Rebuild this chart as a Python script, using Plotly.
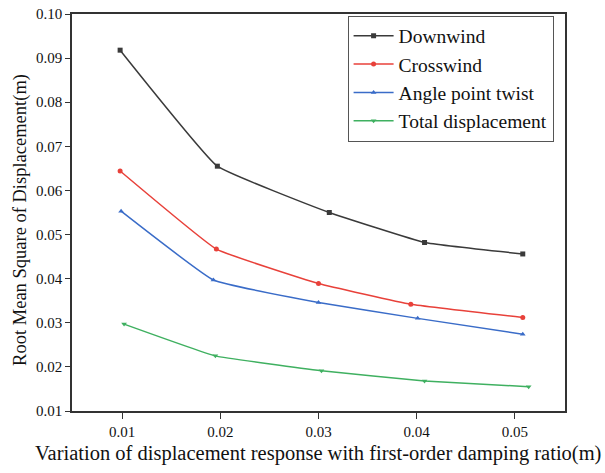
import plotly.graph_objects as go

x_down = [0.0098, 0.0197, 0.0311, 0.0408, 0.0508]
y_down = [0.0918, 0.0655, 0.0550, 0.0482, 0.0456]
x_cross = [0.0098, 0.0196, 0.0300, 0.0394, 0.0508]
y_cross = [0.0644, 0.0467, 0.0389, 0.0342, 0.0312]
x_angle = [0.0099, 0.0193, 0.0300, 0.0401, 0.0508]
y_angle = [0.0553, 0.0397, 0.0346, 0.0310, 0.0274]
x_total = [0.0102, 0.0195, 0.0303, 0.0408, 0.0514]
y_total = [0.0297, 0.0225, 0.0191, 0.0168, 0.0155]

x_title = "Variation of displacement response with first-order damping ratio(m)"
y_title = "Root Mean Square of Displacement(m)"

series = [
    ("Downwind", x_down, y_down, "#3a3a3a", "square"),
    ("Crosswind", x_cross, y_cross, "#e8413a", "circle"),
    ("Angle point twist", x_angle, y_angle, "#3a6cc8", "triangle-up"),
    ("Total displacement", x_total, y_total, "#3fb060", "triangle-down"),
]

fig = go.Figure()
for name, xs, ys, c, sym in series:
    fig.add_trace(go.Scatter(x=xs, y=ys, name=name, mode="lines+markers",
                             line=dict(color=c, width=1.5, shape="spline", smoothing=0.3),
                             marker=dict(symbol=sym, size=5, color=c)))

font = "Liberation Serif, Times New Roman, serif"
fig.update_layout(
    width=605, height=473,
    margin=dict(l=72, r=40, t=14, b=62),
    plot_bgcolor="white", paper_bgcolor="white",
    font=dict(family=font, color="#111", size=15),
    legend=dict(x=0.559, y=0.996, xanchor="left", yanchor="top",
                bordercolor="#555", borderwidth=1, bgcolor="white",
                font=dict(size=19.5, family=font), tracegroupgap=0,
                itemwidth=40),
    xaxis=dict(range=[0.0049, 0.0551], tickvals=[0.01, 0.02, 0.03, 0.04, 0.05],
               ticktext=["0.01", "0.02", "0.03", "0.04", "0.05"],
               showgrid=False, zeroline=False, showline=True, linecolor="#333", linewidth=1.5,
               mirror=True, ticks="outside", ticklen=6, tickcolor="#333", automargin=False),
    yaxis=dict(range=[0.01, 0.10], tickvals=[0.01, 0.02, 0.03, 0.04, 0.05, 0.06, 0.07, 0.08, 0.09, 0.10],
               ticktext=["0.01", "0.02", "0.03", "0.04", "0.05", "0.06", "0.07", "0.08", "0.09", "0.10"],
               showgrid=False, zeroline=False, showline=True, linecolor="#333", linewidth=1.5,
               mirror=True, ticks="outside", ticklen=5, tickcolor="#333", automargin=False),
    annotations=[
        dict(text=x_title, xref="paper", yref="paper", x=0.499, y=-0.106,
             xanchor="center", yanchor="middle", showarrow=False, font=dict(size=20.5)),
        dict(text=y_title, xref="paper", yref="paper", x=-0.105, y=0.482,
             xanchor="center", yanchor="middle", showarrow=False, textangle=-90,
             font=dict(size=18.5)),
    ],
)
fig.write_html("out.html")
